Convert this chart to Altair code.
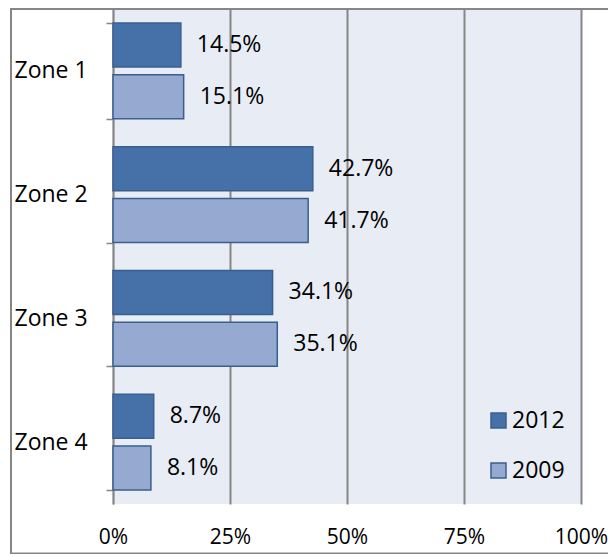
import altair as alt
import pandas as pd

zones = ["Zone 1", "Zone 2", "Zone 3", "Zone 4"]
years = ["2012", "2009"]
values_2012 = [14.5, 42.7, 34.1, 8.7]
values_2009 = [15.1, 41.7, 35.1, 8.1]
x_ticks = [0, 25, 50, 75, 100]
colors = ["#4571A8", "#95A9D1"]

rows = []
for z, a, b in zip(zones, values_2012, values_2009):
    rows.append({"zone": z, "year": "2012", "value": a, "label": f"{a:.1f}%"})
    rows.append({"zone": z, "year": "2009", "value": b, "label": f"{b:.1f}%"})
df = pd.DataFrame(rows)

FONT = "Open Sans"
FS = 23

y_enc = alt.Y(
    "zone:N",
    sort=zones,
    title=None,
    scale=alt.Scale(paddingInner=0.226, paddingOuter=0.113),
    axis=alt.Axis(
        tickBand="extent",
        tickSize=7,
        tickColor="#868686",
        tickWidth=1.5,
        domainColor="#868686",
        domainWidth=1.5,
        labelAlign="left",
        labelPadding=92,
        labelFont=FONT,
        labelFontSize=FS,
        labelColor="black",
        grid=False,
    ),
)
yoff = alt.YOffset("year:N", sort=years, scale=alt.Scale(paddingInner=0.154, paddingOuter=0))

x_enc = alt.X(
    "value:Q",
    title=None,
    scale=alt.Scale(domain=[0, 100]),
    axis=alt.Axis(
        values=x_ticks,
        labelExpr="datum.value + '%'",
        domain=False,
        ticks=False,
        tickSize=0,
        labelPadding=22,
        labelFont=FONT,
        labelFontSize=21,
        labelColor="black",
        grid=True,
        gridColor="#868686",
        gridWidth=2,
        labelFlush=False,
    ),
)

bars = alt.Chart(df).mark_bar(stroke="#3A5F8E", strokeWidth=1.5).encode(
    x=x_enc,
    y=y_enc,
    yOffset=yoff,
    color=alt.Color(
        "year:N",
        sort=years,
        scale=alt.Scale(domain=years, range=colors),
        legend=alt.Legend(
            title=None,
            orient="none",
            legendX=374,
            legendY=400,
            symbolType="square",
            symbolSize=225,
            symbolStrokeColor="#3A5F8E",
            symbolStrokeWidth=1.5,
            labelFont=FONT,
            labelFontSize=FS,
            labelColor="black",
            rowPadding=26,
            labelOffset=2,
        ),
    ),
)

texts = alt.Chart(df).mark_text(
    align="left", baseline="middle", dx=16, font=FONT, fontSize=FS, color="black"
).encode(
    x="value:Q",
    y=alt.Y("zone:N", sort=zones),
    yOffset=alt.YOffset("year:N", sort=years),
    text="label:N",
)

one = pd.DataFrame({"a": [0]})
frame = alt.Chart(one).mark_rect(
    fill=None, stroke="#868686", strokeWidth=2
).encode(
    x=alt.value(-102), x2=alt.value(560), y=alt.value(0), y2=alt.value(544.5)
)
top_line = alt.Chart(one).mark_rule(color="#868686", strokeWidth=2).encode(
    x=alt.value(-102), x2=alt.value(560), y=alt.value(0)
)

chart = alt.layer(bars, texts, frame, top_line).properties(
    width=468,
    height=495,
    autosize=alt.AutoSizeParams(type="none"),
    padding={"left": 105, "top": 1, "right": 27, "bottom": 50},
    background="white",
).configure_view(fill="#E8ECF4", stroke=None)

chart.save("out.html", embed_options={"renderer": "svg", "actions": False})
